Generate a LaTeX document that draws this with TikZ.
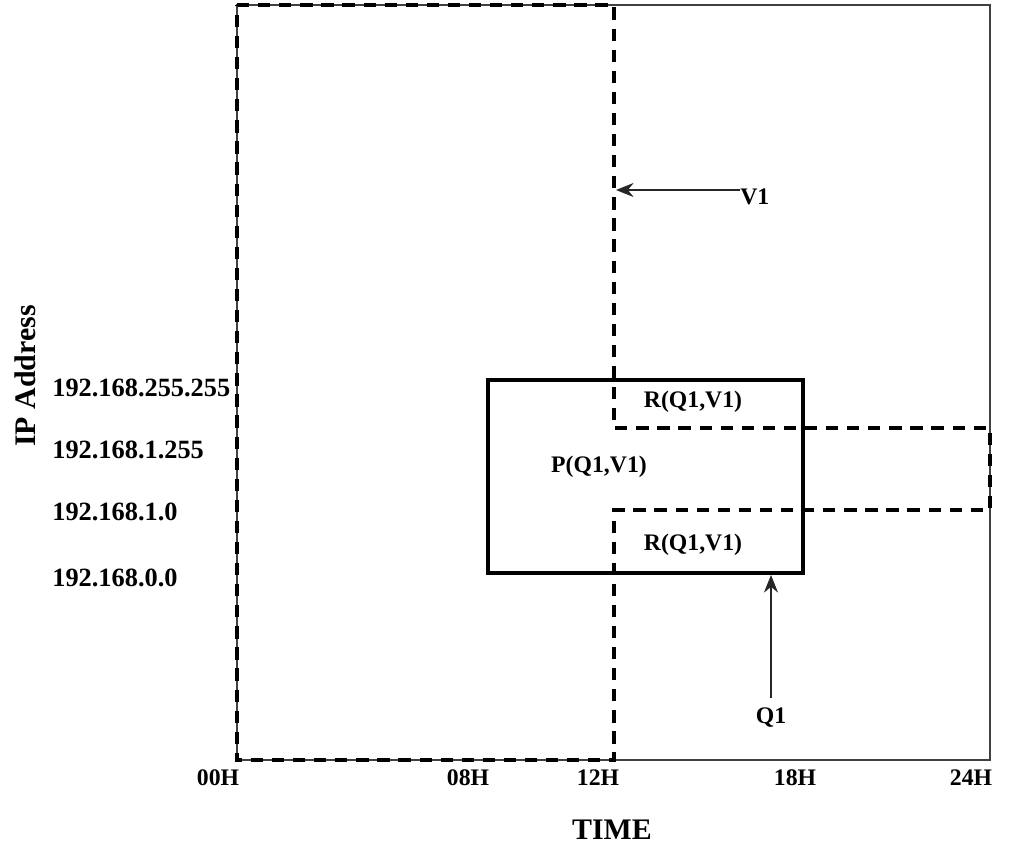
\documentclass[tikz,border=0pt]{standalone}
\usepackage{fontspec}
\setmainfont{Liberation Serif}
\usetikzlibrary{arrows.meta}
\tikzset{
  lbl/.style={font=\fontsize{13.5}{15}\selectfont\bfseries, inner sep=0pt},
  iplbl/.style={font=\fontsize{15}{17}\selectfont\bfseries, inner sep=0pt, anchor=west},
  axis/.style={font=\fontsize{17}{19}\selectfont\bfseries, inner sep=0pt},
  thinframe/.style={draw=black!75, line width=1.1pt},
  dashframe/.style={draw=black, line width=2.2pt, dash pattern=on 7pt off 5pt},
  qbox/.style={draw=black, line width=2.6pt},
  ptr/.style={draw=black!85, line width=0.9pt, -{Stealth[length=10pt,width=8pt]}}
}
\begin{document}
\begin{tikzpicture}[x=0.02cm,y=-0.02cm]
\useasboundingbox (0,0) rectangle (1012,848);
% outer thin frame
\draw[thinframe] (237,5) rectangle (990,760);
% V1 dashed region
\draw[dashframe] (237,5) -- (614,5) -- (614,428) -- (990,428) -- (990,510) -- (614,510) -- (614,760) -- (237,760) -- cycle;
% Q1 solid box
\draw[qbox] (488,380) rectangle (803,573);
\coordinate (qbot) at (771,575);
\coordinate (vtip) at (616,190);
% labels
\node[iplbl] (ip1) at (52,388) {192.168.255.255};
\node[iplbl] (ip2) at (52,450) {192.168.1.255};
\node[iplbl] (ip3) at (52,512) {192.168.1.0};
\node[iplbl] (ip4) at (52,578) {192.168.0.0};
\node[axis, rotate=90] (ipaxis) at (25,376) {IP Address};
\node[lbl] (t0) at (218,778) {00H};
\node[lbl] (t8) at (468,778) {08H};
\node[lbl] (t12) at (598,778) {12H};
\node[lbl] (t18) at (795,778) {18H};
\node[lbl] (t24) at (971,778) {24H};
\node[axis] (time) at (612,830) {TIME};
\node[lbl, anchor=west] (v1) at (740,197) {V1};
\node[lbl] (r1) at (693,402) {R(Q1,V1)};
\node[lbl] (p) at (599,467) {P(Q1,V1)};
\node[lbl] (r2) at (693,545) {R(Q1,V1)};
\node[lbl] (q1) at (771,718) {Q1};
% pointers
\draw[ptr] (v1.west |- vtip) -- (vtip);
\draw[ptr] (q1.north) ++(0,-10) -- (qbot);
\end{tikzpicture}
\end{document}
